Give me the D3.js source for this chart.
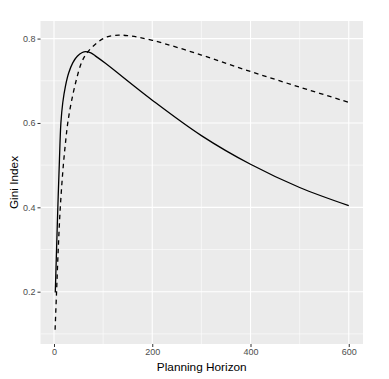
<!DOCTYPE html>
<html>
<head>
<meta charset="utf-8">
<script src="https://cdn.jsdelivr.net/npm/d3@7"></script>
<style>
  html, body { margin: 0; padding: 0; background: #ffffff; }
  svg { display: block; }
  text { font-family: "Liberation Sans", Arial, Helvetica, sans-serif; }
</style>
</head>
<body>
<svg id="chart" width="389" height="379"></svg>
<script>
// ---- data ----
const solidX = [2.6, 5.2, 7.8, 10.7, 14.0, 17.8, 23.2, 30, 38.4, 47.4, 57.5, 64.3, 75, 84, 104, 200, 300, 400, 500, 600];
const solidY = [0.198, 0.30, 0.40, 0.50, 0.60, 0.648, 0.687, 0.719, 0.743, 0.758, 0.767, 0.769, 0.766, 0.759, 0.742, 0.654, 0.570, 0.502, 0.447, 0.404];

const dashedX = [2.2, 5.2, 8.6, 12.8, 19, 24, 28, 35, 45, 56, 67, 87.5, 108, 132, 150, 200, 300, 400, 500, 600];
const dashedY = [0.11, 0.20, 0.30, 0.40, 0.50, 0.56, 0.60, 0.648, 0.70, 0.743, 0.766, 0.79, 0.804, 0.808, 0.807, 0.796, 0.761, 0.722, 0.685, 0.649];

const xTicks = [0, 200, 400, 600];
const xMinor = [100, 300, 500];
const yTicks = [0.2, 0.4, 0.6, 0.8];
const yMinor = [0.1, 0.3, 0.5, 0.7];
const xTitle = "Planning Horizon";
const yTitle = "Gini Index";

// ---- layout ----
const panel = { left: 40.5, right: 363, top: 21, bottom: 344 };
const svg = d3.select("#chart");

const x = d3.scaleLinear().domain([-27.5, 629]).range([panel.left, panel.right]);
const y = d3.scaleLinear().domain([0.076, 0.8417]).range([panel.bottom, panel.top]);

// panel background
svg.append("rect")
  .attr("x", panel.left).attr("y", panel.top)
  .attr("width", panel.right - panel.left)
  .attr("height", panel.bottom - panel.top)
  .attr("fill", "#EBEBEB");

const grid = svg.append("g");
// minor grid
grid.selectAll(".xm").data(xMinor).enter().append("line")
  .attr("x1", d => x(d)).attr("x2", d => x(d))
  .attr("y1", panel.top).attr("y2", panel.bottom)
  .attr("stroke", "#ffffff").attr("stroke-width", 0.55);
grid.selectAll(".ym").data(yMinor).enter().append("line")
  .attr("y1", d => y(d)).attr("y2", d => y(d))
  .attr("x1", panel.left).attr("x2", panel.right)
  .attr("stroke", "#ffffff").attr("stroke-width", 0.55);
// major grid
grid.selectAll(".xM").data(xTicks).enter().append("line")
  .attr("x1", d => x(d)).attr("x2", d => x(d))
  .attr("y1", panel.top).attr("y2", panel.bottom)
  .attr("stroke", "#ffffff").attr("stroke-width", 1.1);
grid.selectAll(".yM").data(yTicks).enter().append("line")
  .attr("y1", d => y(d)).attr("y2", d => y(d))
  .attr("x1", panel.left).attr("x2", panel.right)
  .attr("stroke", "#ffffff").attr("stroke-width", 1.1);

// axes
const xAxis = d3.axisBottom(x).tickValues(xTicks).tickSize(3).tickPadding(2).tickFormat(d3.format("d"));
const yAxis = d3.axisLeft(y).tickValues(yTicks).tickSize(3).tickPadding(2).tickFormat(d3.format(".1f"));

const gx = svg.append("g").attr("transform", `translate(0,${panel.bottom})`).call(xAxis);
const gy = svg.append("g").attr("transform", `translate(${panel.left},0)`).call(yAxis);
[gx, gy].forEach(g => {
  g.select(".domain").remove();
  g.selectAll(".tick line").attr("stroke", "#333333").attr("stroke-width", 1);
  g.selectAll(".tick text").attr("fill", "#4D4D4D").style("font-size", "9px")
    .style("font-family", '"Liberation Sans", Arial, sans-serif');
});

// lines
const line = d3.line().x(d => x(d[0])).y(d => y(d[1])).curve(d3.curveCatmullRom.alpha(0.5));
const solid = solidX.map((v, i) => [v, solidY[i]]);
const dashed = dashedX.map((v, i) => [v, dashedY[i]]);

svg.append("path").datum(dashed)
  .attr("d", line).attr("fill", "none")
  .attr("stroke", "#000000").attr("stroke-width", 1.3)
  .attr("stroke-dasharray", "4.5,4");
svg.append("path").datum(solid)
  .attr("d", line).attr("fill", "none")
  .attr("stroke", "#000000").attr("stroke-width", 1.3);

// titles
svg.append("text")
  .attr("x", (panel.left + panel.right) / 2).attr("y", 370.5)
  .attr("text-anchor", "middle").attr("fill", "#000000")
  .style("font-size", "11.8px").text(xTitle);
svg.append("text")
  .attr("transform", `translate(17.5,${(panel.top + panel.bottom) / 2}) rotate(-90)`)
  .attr("text-anchor", "middle").attr("fill", "#000000")
  .style("font-size", "11.8px").text(yTitle);
</script>
</body>
</html>
